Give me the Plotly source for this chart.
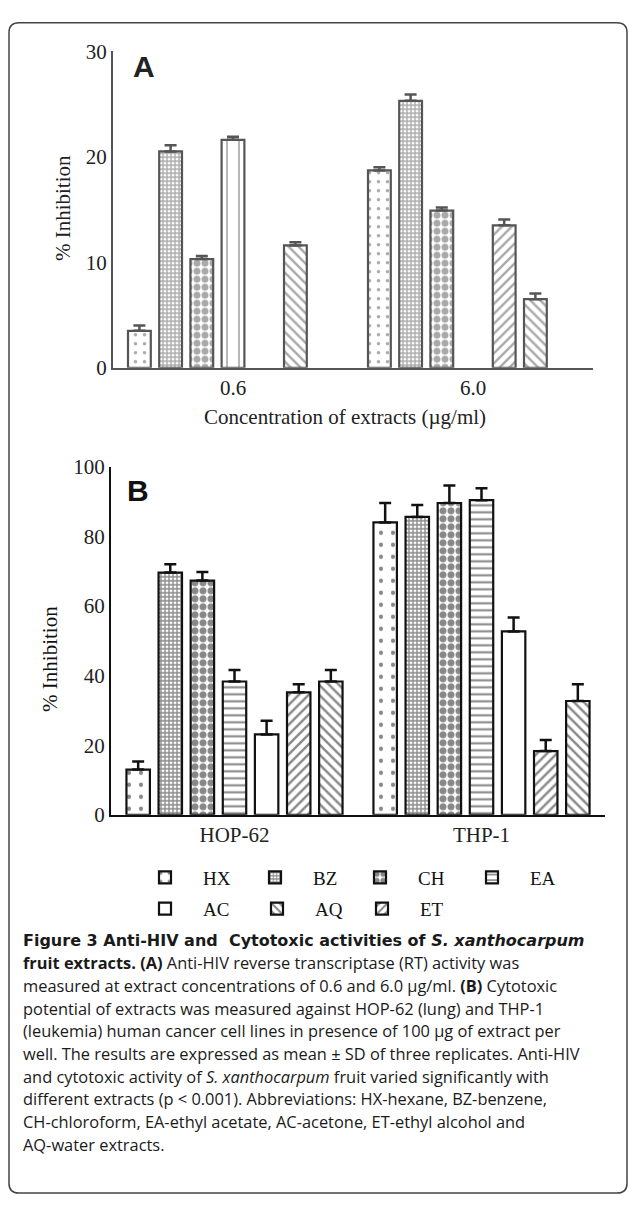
import plotly.graph_objects as go

# ---------------- data ----------------
series = ["HX", "BZ", "CH", "EA", "AC", "ET", "AQ"]

# Panel A: anti-HIV RT inhibition (%), bar slots in drawing order
conc_labels = ["0.6", "6.0"]
hiv_06 = [3.5, 20.5, 10.3, 21.6, None, 11.6, None]
hiv_60 = [18.7, 25.3, 14.9, None, 13.5, 6.5, None]
hiv_06_sd = [0.5, 0.6, 0.3, 0.3, None, 0.3, None]
hiv_60_sd = [0.3, 0.6, 0.3, None, 0.55, 0.55, None]

# Panel B: cytotoxicity (% inhibition)
cell_lines = ["HOP-62", "THP-1"]
hop62 = [13.0, 69.6, 67.3, 38.3, 23.1, 35.2, 38.3]
thp1 = [84.0, 85.6, 89.6, 90.4, 52.7, 18.3, 32.7]
hop62_sd = [2.3, 2.4, 2.5, 3.3, 3.9, 2.3, 3.3]
thp1_sd = [5.6, 3.4, 5.0, 3.4, 4.0, 3.2, 4.8]

yticks_A = [0, 10, 20, 30]
yticks_B = [0, 20, 40, 60, 80, 100]

caption_title = "<b>Figure 3 Anti-HIV and&nbsp; Cytotoxic activities of <i>S. xanthocarpum</i></b>"
caption_lines = [
    "<b>fruit extracts. (A)</b> Anti-HIV reverse transcriptase (RT) activity was",
    "measured at extract concentrations of 0.6 and 6.0 µg/ml. <b>(B)</b> Cytotoxic",
    "potential of extracts was measured against HOP-62 (lung) and THP-1",
    "(leukemia) human cancer cell lines in presence of 100 µg of extract per",
    "well. The results are expressed as mean ± SD of three replicates. Anti-HIV",
    "and cytotoxic activity of <i>S. xanthocarpum</i> fruit varied significantly with",
    "different extracts (p < 0.001). Abbreviations: HX-hexane, BZ-benzene,",
    "CH-chloroform, EA-ethyl acetate, AC-acetone, ET-ethyl alcohol and",
    "AQ-water extracts.",
]

# ---------------- styling ----------------
W, H = 629, 1211
def px(x):
    return x / W
def py(y):
    return 1 - y / H

SERIF = "Liberation Serif"
colA = "#555555"
colB = "#111111"

patA = [dict(shape=".", size=9, solidity=0.12),
        dict(shape="+", size=4, solidity=0.55),
        dict(shape=".", size=8, solidity=0.6),
        dict(shape="|", size=12, solidity=0.14),
        dict(shape="/", size=7, solidity=0.35),
        dict(shape="\\", size=7, solidity=0.35),
        dict(shape="", size=8, solidity=0.3)]
patB = [dict(shape=".", size=12, solidity=0.1),
        dict(shape="+", size=4, solidity=0.55),
        dict(shape=".", size=8, solidity=0.6),
        dict(shape="-", size=7, solidity=0.3),
        dict(shape="", size=8, solidity=0.3),
        dict(shape="/", size=7, solidity=0.35),
        dict(shape="\\", size=7, solidity=0.35)]

# legend entry placement (left x, centre y) in pixels
legend_pos = {"HX": (127, 883), "BZ": (237, 883), "CH": (342, 883), "EA": (454, 883),
              "AC": (127, 915), "AQ": (239, 915), "ET": (344, 915)}

fig = go.Figure()

for i, name in enumerate(series):
    fig.add_trace(go.Bar(
        x=conc_labels, y=[hiv_06[i], hiv_60[i]], name=name, showlegend=False,
        xaxis="x", yaxis="y",
        marker=dict(color="white", line=dict(color=colA, width=2.2),
                    pattern=dict(fgcolor=colA, bgcolor="white", fillmode="overlay", **patA[i])),
        error_y=dict(type="data", symmetric=False, array=[hiv_06_sd[i], hiv_60_sd[i]],
                     arrayminus=[0, 0], color=colA, thickness=2.5, width=6),
    ))

legend_layouts = {}
for i, name in enumerate(series):
    lname = "legend" if i == 0 else f"legend{i + 1}"
    fig.add_trace(go.Bar(
        x=cell_lines, y=[hop62[i], thp1[i]], name=name, legend=lname,
        xaxis="x2", yaxis="y2",
        marker=dict(color="white", line=dict(color=colB, width=2.2),
                    pattern=dict(fgcolor=colB, bgcolor="white", fillmode="overlay", **patB[i])),
        error_y=dict(type="data", symmetric=False, array=[hop62_sd[i], thp1_sd[i]],
                     arrayminus=[0, 0], color=colB, thickness=2.5, width=6),
    ))
    lx, ly = legend_pos[name]
    legend_layouts[lname] = dict(orientation="h", x=px(lx), y=py(ly), xanchor="left", yanchor="middle",
                                 itemwidth=66, font=dict(family=SERIF, size=19, color="#111"),
                                 bgcolor="rgba(0,0,0,0)", borderwidth=0)

axis_common = dict(showgrid=False, zeroline=False, showline=True, ticks="",
                   tickfont=dict(family=SERIF, size=21, color="#222"), fixedrange=True)

annotations = [
    dict(text="<b>A</b>", x=px(144), y=py(56), font=dict(family="Liberation Sans", size=30, color="#222")),
    dict(text="<b>B</b>", x=px(138), y=py(488), font=dict(family="Liberation Sans", size=30, color="#111")),
    dict(text="Concentration of extracts (µg/ml)", x=px(345), y=py(413),
         font=dict(family=SERIF, size=21, color="#222")),
    dict(text="% Inhibition", x=px(63), y=py(200), textangle=-90,
         font=dict(family=SERIF, size=21, color="#222")),
    dict(text="% Inhibition", x=px(50), y=py(660), textangle=-90,
         font=dict(family=SERIF, size=21, color="#111")),
]
for a in annotations:
    a.update(xref="paper", yref="paper", showarrow=False, xanchor="center", yanchor="middle")

annotations.append(dict(text=caption_title, xref="paper", yref="paper", x=px(21), y=py(947),
                        xanchor="left", yanchor="middle", showarrow=False, align="left",
                        font=dict(family="DejaVu Sans", size=16, color="#1a1a1a")))
for k, line in enumerate(caption_lines):
    annotations.append(dict(text=line, xref="paper", yref="paper", x=px(21), y=py(947 + 23.1 * (k + 1)),
                            xanchor="left", yanchor="middle", showarrow=False, align="left",
                            font=dict(family="Open Sans", size=16.4, color="#1a1a1a")))

# rounded frame
x0, y0, x1, y1, r = 9, 11, 627, 1205, 10
path = (f"M {px(x0 + r)},{py(y0)} L {px(x1 - r)},{py(y0)} Q {px(x1)},{py(y0)} {px(x1)},{py(y0 + r)} "
        f"L {px(x1)},{py(y1 - r)} Q {px(x1)},{py(y1)} {px(x1 - r)},{py(y1)} "
        f"L {px(x0 + r)},{py(y1)} Q {px(x0)},{py(y1)} {px(x0)},{py(y1 - r)} "
        f"L {px(x0)},{py(y0 + r)} Q {px(x0)},{py(y0)} {px(x0 + r)},{py(y0)} Z")

fig.update_layout(
    width=W, height=H, autosize=False,
    margin=dict(l=0, r=0, t=0, b=0),
    paper_bgcolor="white", plot_bgcolor="white",
    barmode="group", bargap=0.09, bargroupgap=0.27,
    xaxis=dict(domain=[px(113), px(593)], anchor="y", range=[-0.5, 1.5], linecolor=colA, linewidth=2,
               **axis_common),
    yaxis=dict(domain=[py(363), py(40)], anchor="x", range=[0, 30], tickvals=yticks_A, linecolor=colA,
               linewidth=2, **axis_common),
    xaxis2=dict(domain=[px(111), px(605)], anchor="y2", range=[-0.5, 1.5], linecolor=colB, linewidth=2,
                **axis_common),
    yaxis2=dict(domain=[py(819), py(464)], anchor="x2", range=[0, 100], tickvals=yticks_B, linecolor=colB,
                linewidth=2, **axis_common),
    annotations=annotations,
    shapes=[dict(type="path", path=path, xref="paper", yref="paper",
                 line=dict(color="#444", width=1.5))],
    **legend_layouts,
)

fig.write_html("out.html", config={"displayModeBar": False},
               post_script="document.body.style.margin='0';document.body.style.overflow='hidden';")
